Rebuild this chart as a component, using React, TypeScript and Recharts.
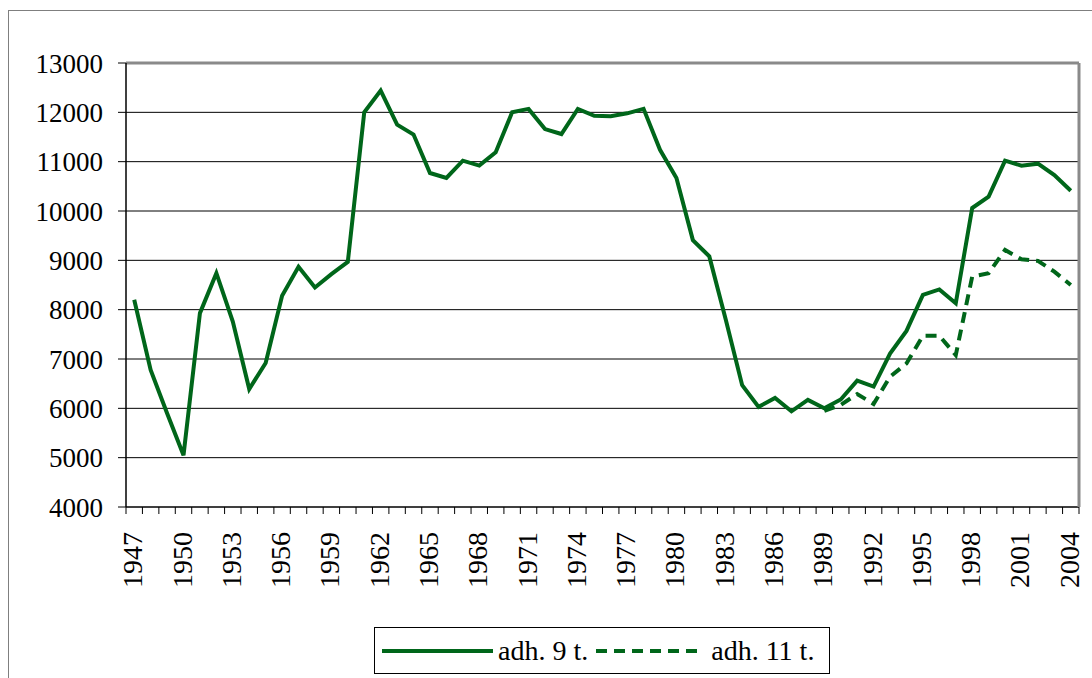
import { LineChart, Line, XAxis, YAxis, CartesianGrid, Legend, ReferenceLine } from 'recharts';

const years = [
  '1947', '1948', '1949', '1950', '1951', '1952', '1953', '1954', '1955', '1956',
  '1957', '1958', '1959', '1960', '1961', '1962', '1963', '1964', '1965', '1966',
  '1967', '1968', '1969', '1970', '1971', '1972', '1973', '1974', '1975', '1976',
  '1977', '1978', '1979', '1980', '1981', '1982', '1983', '1984', '1985', '1986',
  '1987', '1988', '1989', '1990', '1991', '1992', '1993', '1994', '1995', '1996',
  '1997', '1998', '1999', '2000', '2001', '2002', '2003', '2004',
];

const adh9 = [
  8200, 6780, 5900, 5050, 7930, 8740, 7760, 6390, 6920, 8280,
  8870, 8450, 8720, 8970, 12000, 12440, 11750, 11550, 10770, 10670,
  11020, 10920, 11190, 12000, 12070, 11660, 11560, 12070, 11930, 11920,
  11980, 12070, 11240, 10670, 9410, 9080, 7800, 6470, 6030, 6210,
  5940, 6170, 6000, 6180, 6560, 6440, 7110, 7570, 8300, 8410,
  8130, 10060, 10290, 11020, 10920, 10960, 10730, 10410,
];

// adh. 11 t. series only exists from 1989 on
const adh11Start = '1989';
const adh11 = [5950, 6070, 6290, 6090, 6640, 6910, 7470, 7470, 7080, 8670, 8740, 9210, 9020, 8990, 8770, 8500];

const yTicks = [4000, 5000, 6000, 7000, 8000, 9000, 10000, 11000, 12000, 13000];

const W = 1092;
const H = 678;
const M = { top: 63, right: 12, left: 0, bottom: 4 };
const Y_W = 126;
const PLOT_W = W - M.left - M.right - Y_W - 1;
const BAND = PLOT_W / years.length;
const GREEN = '#00661a';
const FONT = "'Times New Roman', Tinos, 'Liberation Serif', 'DejaVu Serif', serif";

const offset = years.indexOf(adh11Start);
const data = years.map((year, i) => ({
  year,
  adh9: adh9[i],
  adh11: i >= offset ? adh11[i - offset] : null,
}));

// excel-style axis: small ticks between categories, label every 3rd year
const YearTick = ({ x, y, payload, index }: any) => {
  const tx = x + 8;
  const ty = y + 25;
  return (
    <g>
      <line x1={x - BAND / 2} x2={x - BAND / 2} y1={y} y2={y + 7} stroke="#000" />
      {index === years.length - 1 && (
        <line x1={x + BAND / 2} x2={x + BAND / 2} y1={y} y2={y + 7} stroke="#000" />
      )}
      {index % 3 === 0 && (
        <text
          x={tx}
          y={ty}
          transform={`rotate(-90 ${tx} ${ty})`}
          textAnchor="end"
          style={{ fontFamily: FONT }}
          fontSize={28}
          fill="#000"
        >
          {payload.value}
        </text>
      )}
    </g>
  );
};

const LegendBox = () => (
  <div
    style={{
      boxSizing: 'border-box',
      width: 456,
      height: 47,
      border: '1px solid #000',
      display: 'flex',
      alignItems: 'center',
      fontFamily: FONT,
      fontSize: 28,
      color: '#000',
      background: '#fff',
    }}
  >
    <svg width={111} height={8} style={{ marginLeft: 7 }}>
      <line x1={0} y1={4} x2={111} y2={4} stroke={GREEN} strokeWidth={4} />
    </svg>
    <span style={{ marginLeft: 5 }}>adh. 9 t.</span>
    <svg width={106} height={8} style={{ marginLeft: 8 }}>
      <line x1={0} y1={4} x2={106} y2={4} stroke={GREEN} strokeWidth={4} strokeDasharray="11 7" />
    </svg>
    <span style={{ marginLeft: 9 }}>adh. 11 t.</span>
  </div>
);

export default function App() {
  return (
    <div
      style={{
        position: 'fixed',
        left: 0,
        top: 0,
        width: W,
        height: H,
        overflow: 'hidden',
        background: '#fff',
        fontFamily: FONT,
      }}
    >
      <div
        style={{
          position: 'absolute',
          left: 8,
          top: 10,
          width: 1200,
          height: 800,
          border: '1px solid #7f7f7f',
        }}
      />
      <div style={{ position: 'absolute', left: 0, top: 0 }}>
        <LineChart width={W} height={H} data={data} margin={M} style={{ fontFamily: FONT }}>
          <CartesianGrid vertical={false} stroke="#000" strokeOpacity={1} />
          <XAxis
            dataKey="year"
            interval={0}
            padding={{ left: BAND / 2, right: BAND / 2 }}
            tickLine={false}
            tickSize={0}
            tickMargin={0}
            height={120}
            axisLine={{ stroke: '#000' }}
            tick={<YearTick />}
          />
          <YAxis
            domain={[4000, 13000]}
            ticks={yTicks}
            width={Y_W}
            tickSize={8}
            tickMargin={15}
            axisLine={{ stroke: '#000', strokeWidth: 1.5 }}
            tickLine={{ stroke: '#000' }}
            tick={{ fontSize: 27, fill: '#000', style: { fontFamily: FONT } }}
            allowDataOverflow
          />
          <YAxis
            yAxisId="frame"
            orientation="right"
            width={1}
            tick={false}
            tickLine={false}
            axisLine={{ stroke: '#8a8a8a', strokeWidth: 3 }}
          />
          <ReferenceLine y={13000} stroke="#8a8a8a" strokeWidth={3} />
          <Line
            type="linear"
            dataKey="adh9"
            name="adh. 9 t."
            stroke={GREEN}
            strokeWidth={4}
            dot={false}
            isAnimationActive={false}
          />
          <Line
            type="linear"
            dataKey="adh11"
            name="adh. 11 t."
            stroke={GREEN}
            strokeWidth={4}
            strokeDasharray="11 7"
            dot={false}
            isAnimationActive={false}
          />
          <Legend
            verticalAlign="bottom"
            content={<LegendBox />}
            wrapperStyle={{ left: 374, width: 456, bottom: 4 }}
          />
        </LineChart>
      </div>
    </div>
  );
}
